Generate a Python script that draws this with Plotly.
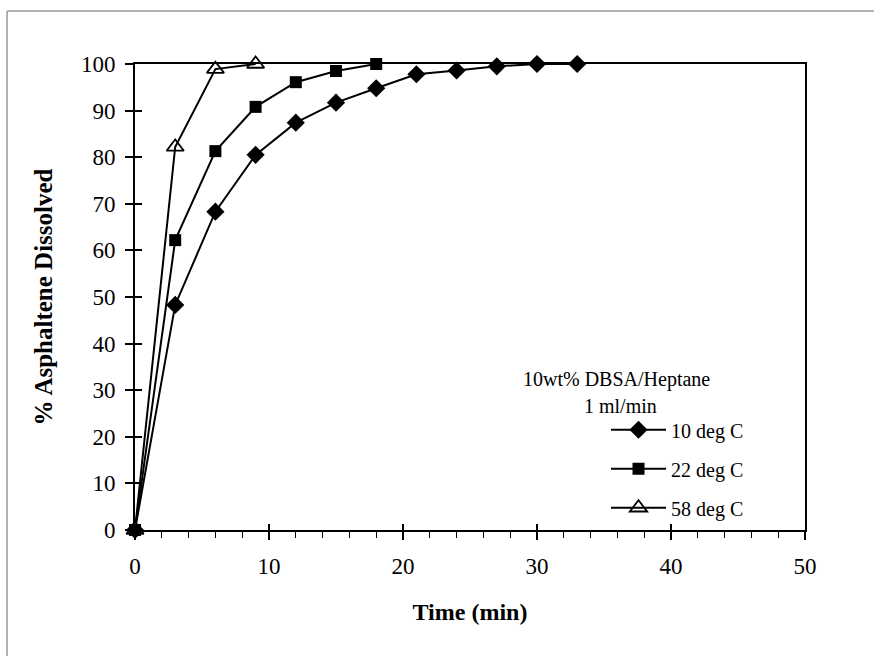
import plotly.graph_objects as go

# ---- data ----
time_10 = [0, 3, 6, 9, 12, 15, 18, 21, 24, 27, 30, 33]
diss_10 = [0, 48.3, 68.3, 80.5, 87.4, 91.7, 94.8, 97.8, 98.6, 99.5, 100, 100]
time_22 = [0, 3, 6, 9, 12, 15, 18]
diss_22 = [0, 62.2, 81.3, 90.8, 96.1, 98.5, 100]
time_58 = [0, 3, 6, 9]
diss_58 = [0, 82.2, 98.9, 100]
names = ["10 deg C", "22 deg C", "58 deg C"]

FONT = "Liberation Serif"

fig = go.Figure()
series = [
    (time_10, diss_10, names[0], dict(symbol="diamond", size=14, color="black")),
    (time_22, diss_22, names[1], dict(symbol="square", size=12, color="black")),
    (time_58, diss_58, names[2], dict(symbol="triangle-up-open", size=15, color="black",
                                     line=dict(color="black", width=1.8))),
]
for i, (x, y, n, m) in enumerate(series):
    fig.add_trace(go.Scatter(x=x, y=y, name=n, mode="lines+markers",
                             line=dict(color="black", width=2), marker=m,
                             cliponaxis=False, legendgroup=f"g{i}"))

# invisible trace for the overlay axes (inside half of crossing ticks)
fig.add_trace(go.Scatter(x=[0], y=[0], xaxis="x2", yaxis="y2", mode="markers",
                         marker=dict(opacity=0), showlegend=False, hoverinfo="skip"))

axis_common = dict(showgrid=False, zeroline=False, linecolor="black", linewidth=2,
                   mirror=True, tickcolor="black", tickwidth=1.5,
                   tickfont=dict(family=FONT, size=23, color="black"))

fig.update_layout(
    width=874, height=656,
    margin=dict(l=135, r=69, t=64, b=126),
    plot_bgcolor="white", paper_bgcolor="white",
    xaxis=dict(range=[0, 50], dtick=10, ticks="outside", ticklen=8, ticklabelstandoff=6,
               minor=dict(dtick=2, ticks="outside", ticklen=6, tickcolor="black", tickwidth=1),
               title=dict(text="<b>Time (min)</b>", font=dict(family=FONT, size=24, color="black"),
                          standoff=26),
               **axis_common),
    yaxis=dict(range=[0, 100], dtick=10, ticks="outside", ticklen=8, ticklabelstandoff=5,
               title=dict(text="<b>% Asphaltene Dissolved</b>",
                          font=dict(family=FONT, size=25, color="black"), standoff=21),
               **axis_common),
    xaxis2=dict(range=[0, 50], dtick=10, overlaying="x", ticks="inside", ticklen=6,
                tickcolor="black", tickwidth=1.5, showticklabels=False, showgrid=False,
                zeroline=False, showline=False),
    yaxis2=dict(range=[0, 100], dtick=10, overlaying="y", ticks="inside", ticklen=7,
                tickcolor="black", tickwidth=1.5, showticklabels=False, showgrid=False,
                zeroline=False, showline=False),
    showlegend=True,
    legend=dict(x=0.703, y=0.257, xanchor="left", yanchor="top",
                font=dict(family=FONT, size=20, color="black"),
                bgcolor="rgba(0,0,0,0)", itemwidth=55, tracegroupgap=10),
    annotations=[
        dict(text="10wt% DBSA/Heptane", x=0.719, y=0.322, xref="paper", yref="paper",
             xanchor="center", yanchor="middle",
             showarrow=False, font=dict(family=FONT, size=20, color="black")),
        dict(text="1 ml/min", x=0.724, y=0.266, xref="paper", yref="paper",
             xanchor="center", yanchor="middle",
             showarrow=False, font=dict(family=FONT, size=20, color="black")),
    ],
    shapes=[
        dict(type="line", xref="paper", yref="paper", x0=-0.191, x1=-0.191, y0=-0.3, y1=1.1137,
             line=dict(color="#9a9a9a", width=1.5)),
        dict(type="line", xref="paper", yref="paper", x0=-0.191, x1=1.2, y0=1.1137, y1=1.1137,
             line=dict(color="#9a9a9a", width=1.5)),
    ],
)

fig.write_html("out.html")
